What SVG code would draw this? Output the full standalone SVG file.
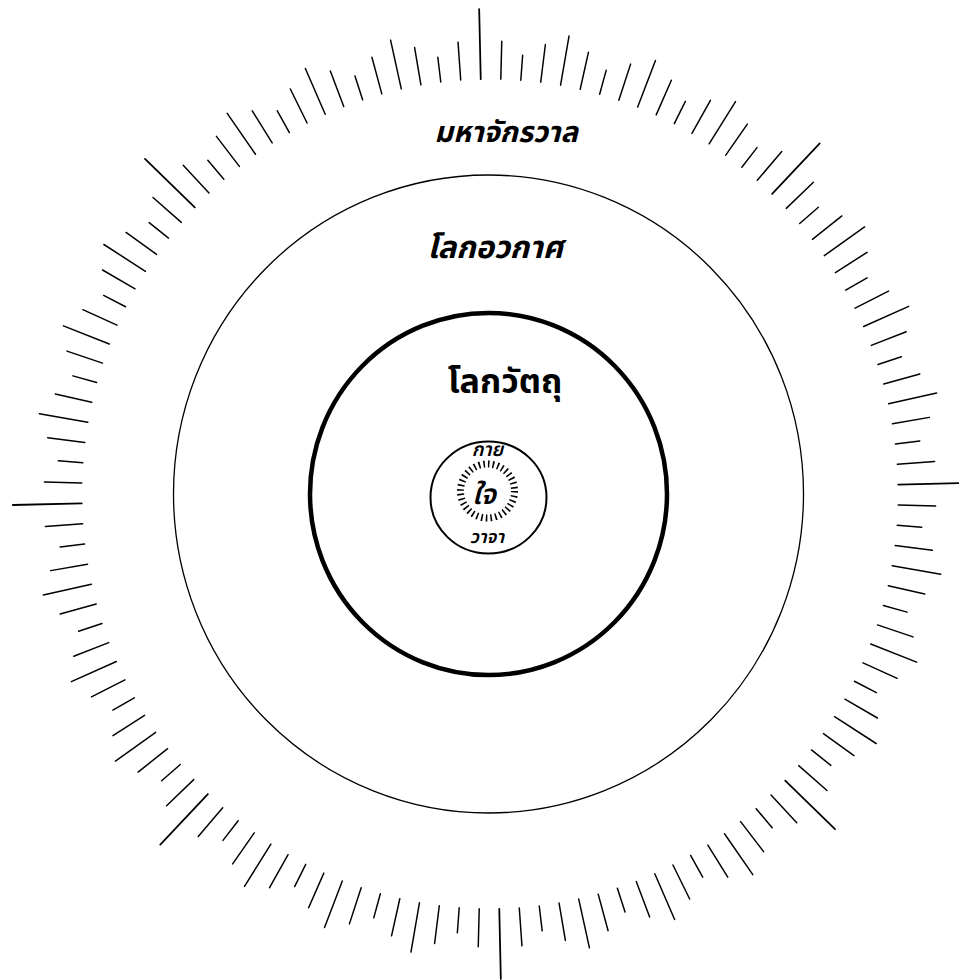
<svg xmlns="http://www.w3.org/2000/svg" xmlns:xlink="http://www.w3.org/1999/xlink" width="959" height="980" viewBox="0 0 959 980">
  <style>
    .tk { stroke: #000; stroke-width: 1.5; stroke-linecap: round; }
    .ring { fill: none; stroke: #000; }
    .th { font-family: "Noto Sans Thai", "Noto Sans Thai Looped", "Loma", "Garuda", "Norasi", "Tlwg Typo", "Noto Sans", "DejaVu Sans", sans-serif; fill: #000; text-anchor: middle; }
  </style>
  <defs>
    <line id="tS" class="tk" x1="0" y1="-415" x2="0" y2="-440"/>
    <line id="tM" class="tk" x1="0" y1="-415" x2="0" y2="-453"/>
    <line id="tL" class="tk" x1="0" y1="-415" x2="0" y2="-465"/>
    <line id="tX" class="tk" x1="0" y1="-415" x2="0" y2="-485" style="stroke-width:1.8"/>
    <g id="oct">
      <use xlink:href="#tX"/>
      <use xlink:href="#tM" transform="rotate(2.8125)"/>
      <use xlink:href="#tS" transform="rotate(5.625)"/>
      <use xlink:href="#tM" transform="rotate(8.4375)"/>
      <use xlink:href="#tL" transform="rotate(11.25)"/>
      <use xlink:href="#tM" transform="rotate(14.0625)"/>
      <use xlink:href="#tS" transform="rotate(16.875)"/>
      <use xlink:href="#tM" transform="rotate(19.6875)"/>
      <use xlink:href="#tL" transform="rotate(22.5)"/>
      <use xlink:href="#tM" transform="rotate(25.3125)"/>
      <use xlink:href="#tS" transform="rotate(28.125)"/>
      <use xlink:href="#tM" transform="rotate(30.9375)"/>
      <use xlink:href="#tL" transform="rotate(33.75)"/>
      <use xlink:href="#tM" transform="rotate(36.5625)"/>
      <use xlink:href="#tS" transform="rotate(39.375)"/>
      <use xlink:href="#tM" transform="rotate(42.1875)"/>
    </g>
  </defs>
  <rect width="959" height="980" fill="#fff"/>

  <g id="mahachakrawan">
    <g id="ticks" transform="translate(490 494) scale(0.984 1) rotate(-1.3)">
      <use xlink:href="#oct"/>
      <use xlink:href="#oct" transform="rotate(45)"/>
      <use xlink:href="#oct" transform="rotate(90)"/>
      <use xlink:href="#oct" transform="rotate(135)"/>
      <use xlink:href="#oct" transform="rotate(180)"/>
      <use xlink:href="#oct" transform="rotate(225)"/>
      <use xlink:href="#oct" transform="rotate(270)"/>
      <use xlink:href="#oct" transform="rotate(315)"/>
    </g>
    <text class="th" x="506" y="142" font-size="29" font-weight="bold" font-style="italic">มหาจักรวาล</text>
  </g>

  <g id="lok-awakat">
    <ellipse class="ring" cx="488.5" cy="494" rx="315" ry="319" stroke-width="1.3"/>
    <text class="th" x="495" y="258" font-size="31" font-weight="bold" font-style="italic">โลกอวกาศ</text>
  </g>

  <g id="lok-watthu">
    <ellipse class="ring" cx="488.5" cy="494" rx="178.5" ry="181" stroke-width="4.5"/>
    <text class="th" x="505" y="393" font-size="34" font-weight="bold">โลกวัตถุ</text>
  </g>

  <g id="kai-waja-jai">
    <ellipse class="ring" cx="488.5" cy="497.5" rx="58" ry="56" stroke-width="2"/>
    <circle class="ring" cx="487.5" cy="491" r="27" stroke-width="7" stroke-dasharray="1.6 3.112"/>
    <text class="th" x="487.5" y="456" font-size="19" font-weight="600" font-style="italic">กาย</text>
    <text class="th" x="484" y="504" font-size="28" font-weight="600" font-style="italic">ใจ</text>
    <text class="th" x="487" y="543" font-size="18" font-weight="600" font-style="italic">วาจา</text>
  </g>
</svg>
